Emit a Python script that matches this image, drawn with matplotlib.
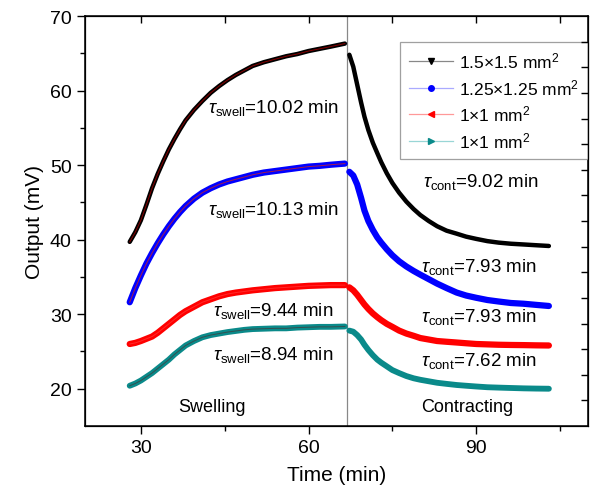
import matplotlib
matplotlib.use("Agg")
import matplotlib.pyplot as plt
from matplotlib.lines import Line2D

plt.rcParams['font.family'] = ['Liberation Sans', 'DejaVu Sans']
plt.rcParams['mathtext.fontset'] = 'custom'
plt.rcParams['mathtext.rm'] = 'Liberation Sans'
plt.rcParams['mathtext.it'] = 'Liberation Sans:italic'

# ---- data ----
t_swell = [28, 29, 30, 31, 32, 33, 34, 35, 36, 37, 38, 39.5, 41, 42.5, 44, 45.5, 47, 48.5,
           50, 52, 54, 56, 58, 60, 62, 64, 66.5]
t_cont = [67.3, 68, 68.7, 69.4, 70, 70.7, 71.5, 72.3, 73, 74, 75, 76.2, 77.5, 78.8, 80,
          81.5, 83, 84.7, 86.5, 88.2, 90, 92, 94, 96.2, 98.5, 100.7, 103]

black_swell = [39.7, 41.0, 42.6, 44.7, 46.9, 48.8, 50.5, 52.1, 53.5, 54.8, 56.0, 57.4, 58.6,
               59.7, 60.6, 61.4, 62.1, 62.7, 63.3, 63.8, 64.2, 64.6, 64.9, 65.3, 65.6, 65.9, 66.3]
blue_swell = [31.6, 33.5, 35.2, 36.8, 38.2, 39.5, 40.7, 41.8, 42.8, 43.7, 44.5, 45.5, 46.3,
              46.9, 47.4, 47.8, 48.1, 48.4, 48.7, 49.0, 49.2, 49.4, 49.6, 49.8, 49.9, 50.05, 50.2]
red_swell = [26.0, 26.15, 26.4, 26.7, 27.0, 27.5, 28.1, 28.7, 29.3, 29.9, 30.4, 31.0, 31.6,
             32.0, 32.4, 32.7, 32.9, 33.05, 33.2, 33.35, 33.5, 33.6, 33.7, 33.8, 33.85, 33.9, 33.9]
teal_swell = [20.4, 20.7, 21.1, 21.6, 22.1, 22.7, 23.3, 23.9, 24.6, 25.2, 25.8, 26.4, 26.9,
              27.2, 27.4, 27.6, 27.75, 27.9, 28.0, 28.05, 28.1, 28.1, 28.2, 28.25, 28.3, 28.3, 28.35]

black_cont = [64.8, 63.2, 60.8, 58.4, 56.5, 54.7, 53.0, 51.6, 50.4, 48.9, 47.6, 46.3, 45.1,
              44.1, 43.3, 42.5, 41.8, 41.2, 40.8, 40.4, 40.1, 39.8, 39.6, 39.45, 39.35, 39.25, 39.15]
blue_cont = [49.1, 48.6, 47.4, 45.6, 43.9, 42.5, 41.3, 40.3, 39.6, 38.7, 37.9, 37.1, 36.4,
             35.8, 35.3, 34.7, 34.1, 33.5, 32.9, 32.5, 32.2, 31.9, 31.7, 31.5, 31.4, 31.25, 31.1]
red_cont = [33.6, 33.2, 32.6, 31.9, 31.3, 30.7, 30.1, 29.6, 29.2, 28.7, 28.3, 27.8, 27.4,
            27.1, 26.8, 26.6, 26.4, 26.3, 26.2, 26.1, 26.0, 25.95, 25.9, 25.87, 25.85, 25.82, 25.8]
teal_cont = [27.8, 27.65, 27.2, 26.6, 25.9, 25.2, 24.5, 23.9, 23.5, 23.0, 22.5, 22.1, 21.7,
             21.4, 21.2, 21.0, 20.8, 20.65, 20.5, 20.4, 20.3, 20.2, 20.15, 20.1, 20.05, 20.02, 20.0]

labels = ['1.5\u00d71.5 mm$^2$', '1.25\u00d71.25 mm$^2$', '1\u00d71 mm$^2$', '1\u00d71 mm$^2$']
colors = ['#000000', '#0000ff', '#ff0000', '#0a8a8a']
pale = ['#888888', '#aaaaff', '#ff9999', '#99d6d6']
markers = ['v', 'o', '<', '>']
t_switch = 66.8

tau_swell = ['10.02', '10.13', '9.44', '8.94']
tau_cont = ['9.02', '7.93', '7.93', '7.62']

series = [(black_swell, black_cont), (blue_swell, blue_cont),
          (red_swell, red_cont), (teal_swell, teal_cont)]
widths = [3.2, 4.5, 4.5, 4.2]
fit_colors = ['#aa0000', '#cc2222', '#ff3333', '#404040']

fig = plt.figure(figsize=(6.0, 5.02), dpi=100)
ax = fig.add_axes([85/600, 1-427/502, 503/600, 410/502])

for (sw, ct), c, w, fc in zip(series, colors, widths, fit_colors):
    ax.plot(t_swell, sw, color=c, lw=w, solid_capstyle='round', solid_joinstyle='round', zorder=3)
    ax.plot(t_cont, ct, color=c, lw=w, solid_capstyle='round', solid_joinstyle='round', zorder=3)
    ax.plot(t_swell, sw, color=fc, lw=0.7, zorder=4, alpha=0.8)

ax.axvline(t_switch, color='#888888', lw=0.9, zorder=2)

ax.set_xlim(20, 110)
ax.set_ylim(15, 70)
ax.set_xticks([30, 60, 90])
ax.set_xticks([45, 75, 105], minor=True)
ax.set_yticks([20, 30, 40, 50, 60, 70])
ax.set_yticks([25, 35, 45, 55, 65], minor=True)
ax.tick_params(axis='both', which='major', direction='out', length=6, width=1,
               labelsize=14, top=False, right=False)
ax.tick_params(axis='both', which='minor', direction='out', length=3.5, width=1,
               top=False, right=False)
for s in ax.spines.values():
    s.set_linewidth(1.1)

# top ticks (inward) and right ticks (inward)
axt = ax.twiny()
axt.set_xlim(20, 110)
axt.set_xticks([30, 45, 60, 75, 90, 105])
axt.tick_params(axis='x', direction='in', length=5, width=1, labeltop=False)
axr = ax.twinx()
axr.set_ylim(0, 16)
axr.set_yticks(range(1, 16))
axr.tick_params(axis='y', direction='in', length=5, width=1, labelright=False)

ax.set_xlabel('Time (min)', fontsize=15, labelpad=6)
ax.set_ylabel('Output (mV)', fontsize=15, labelpad=4)

sw_pos = [(42.0, 57.8), (42.0, 44.1), (42.9, 30.5), (42.9, 24.7)]
ct_pos = [(80.4, 47.9), (80.2, 36.4), (80.2, 29.7), (80.2, 23.8)]
for (x, y), v in zip(sw_pos, tau_swell):
    ax.text(x, y, r'$\tau_{\mathrm{swell}}$=' + v + ' min', fontsize=13.5, va='center', ha='left', zorder=5)
for (x, y), v in zip(ct_pos, tau_cont):
    ax.text(x, y, r'$\tau_{\mathrm{cont}}$=' + v + ' min', fontsize=13.5, va='center', ha='left', zorder=5)

ax.text(36.6, 17.6, 'Swelling', fontsize=13, va='center', ha='left')
ax.text(80.2, 17.6, 'Contracting', fontsize=13, va='center', ha='left')

handles = [Line2D([0], [0], color=p, lw=0.9, marker=m, markersize=4,
                  markerfacecolor=c, markeredgecolor=c)
           for p, m, c in zip(pale, markers, colors)]
leg = ax.legend(handles, labels, loc='upper right', bbox_to_anchor=(1.0, 0.937),
                fontsize=12.5, frameon=True, fancybox=False, edgecolor='#888888',
                handlelength=2.5, handletextpad=0.4, borderpad=0.5, labelspacing=0.38,
                borderaxespad=0.0)
leg.get_frame().set_linewidth(0.9)
leg.set_zorder(10)

fig.savefig('out.png', dpi=100)
